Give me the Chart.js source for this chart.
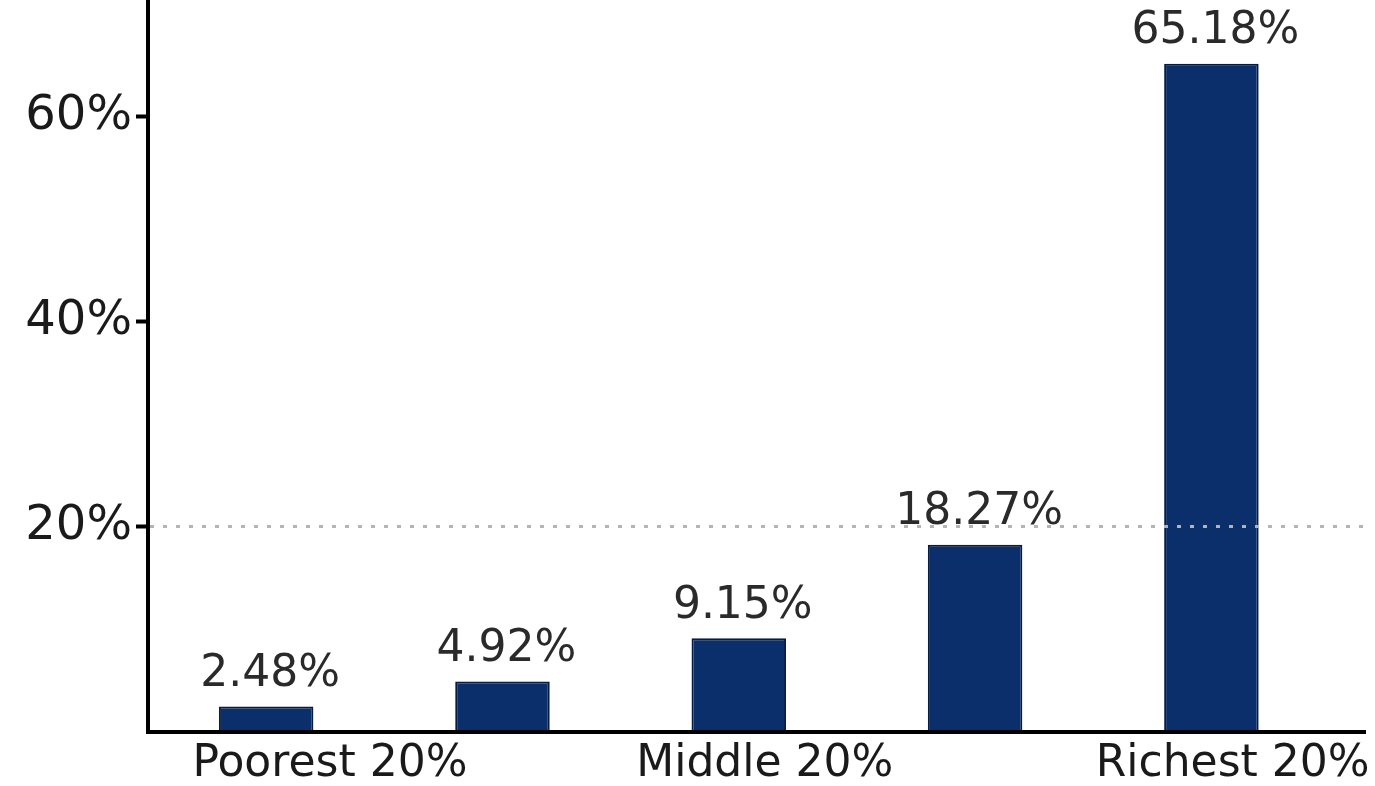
<!DOCTYPE html>
<html>
<head>
<meta charset="utf-8">
<script src="https://cdn.jsdelivr.net/npm/chart.js@4/dist/chart.umd.min.js"></script>
<style>
  html, body { margin: 0; padding: 0; background: #fff; }
  #wrap { width: 1375px; height: 786px; }
</style>
</head>
<body>
<div id="wrap"><canvas id="share-chart"></canvas></div>
<script>
// Income share by quintile
const quintiles = [1, 2, 3, 4, 5];
const shares = [2.48, 4.92, 9.15, 18.27, 65.18];
const xTickAt = [1.27, 3.11, 5.09];
const xTickLabels = ['Poorest 20%', 'Middle 20%', 'Richest 20%'];
const yTicks = [20, 40, 60];

const FONT = "'DejaVu Sans', Verdana, sans-serif";

// Writes each bar's value above it
const valueLabels = {
    id: 'valueLabels',
    afterDatasetsDraw(chart) {
        const ctx = chart.ctx;
        const meta = chart.getDatasetMeta(0);
        ctx.save();
        ctx.font = '44px ' + FONT;
        ctx.fillStyle = '#2a2a2a';
        ctx.textAlign = 'center';
        ctx.textBaseline = 'bottom';
        meta.data.forEach((bar, i) => {
            ctx.fillText(shares[i].toFixed(2) + '%', bar.x + 4, bar.y - 10);
        });
        ctx.restore();
    }
};

new Chart(document.getElementById('share-chart'), {
    type: 'bar',
    data: {
        datasets: [{
            data: quintiles.map((q, i) => ({ x: q, y: shares[i] })),
            backgroundColor: '#0b2f6b',
            borderColor: '#061c42',
            borderWidth: 2,
            borderSkipped: 'bottom',
            barPercentage: 0.4,
            categoryPercentage: 1.0
        }]
    },
    options: {
        responsive: true,
        maintainAspectRatio: false,
        animation: false,
        layout: { padding: { top: 0, right: 10, bottom: 0, left: 0 } },
        plugins: {
            legend: { display: false },
            tooltip: { enabled: false }
        },
        scales: {
            x: {
                type: 'linear',
                min: 0.5,
                max: 5.65,
                offset: false,
                grid: { display: false, drawTicks: false },
                border: { display: true, color: '#000', width: 4, z: 2 },
                afterBuildTicks(scale) {
                    scale.ticks = xTickAt.map(v => ({ value: v }));
                },
                afterFit(scale) {
                    scale.height = 54;
                    scale.paddingLeft = 0;
                    scale.paddingRight = 0;
                },
                ticks: {
                    autoSkip: false,
                    maxRotation: 0,
                    padding: 6,
                    color: '#1a1a1a',
                    font: { family: FONT, size: 44 },
                    callback: (value, index) => xTickLabels[index]
                }
            },
            y: {
                min: 0,
                max: 71.4,
                afterBuildTicks(scale) {
                    scale.ticks = [0].concat(yTicks).map(v => ({ value: v }));
                },
                afterFit(scale) {
                    scale.width = 148;
                    scale.paddingTop = 0;
                    scale.paddingBottom = 0;
                },
                // grid sits above the bars so the 20% guide crosses them
                grid: {
                    z: 1,
                    lineWidth: 3,
                    tickLength: 12,
                    tickWidth: 4,
                    color: c => (c.tick && c.tick.value === 20 ? '#b4b4b4' : 'rgba(0,0,0,0)'),
                    tickColor: c => (c.tick && c.tick.value > 0 ? '#000' : 'rgba(0,0,0,0)'),
                    tickBorderDash: []
                },
                border: { display: true, color: '#000', width: 4, dash: [4, 9], z: 2 },
                ticks: {
                    padding: 4,
                    color: '#1a1a1a',
                    font: { family: FONT, size: 48 },
                    callback: v => (v === 0 ? '' : v + '%')
                }
            }
        }
    },
    plugins: [valueLabels]
});
</script>
</body>
</html>
